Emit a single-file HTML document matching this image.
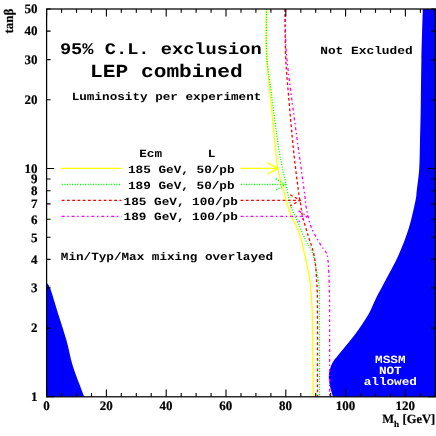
<!DOCTYPE html>
<html><head><meta charset="utf-8"><title>LEP combined exclusion</title>
<style>
html,body{margin:0;padding:0;background:#fff;}
body{width:436px;height:436px;overflow:hidden;}
svg{display:block;will-change:transform;}
text{text-rendering:geometricPrecision;}
.ser{font-family:"Liberation Serif",serif;font-weight:bold;font-size:13px;fill:#000;stroke:#000;stroke-width:0.2px;}
.mono{font-family:"Liberation Mono",monospace;font-weight:bold;}
</style></head><body>
<svg width="436" height="436" viewBox="0 0 436 436">
<rect width="436" height="436" fill="#fff"/>
<path d="M46.60,282.80 C47.25,283.88 48.52,283.93 50.50,289.30 C52.48,294.67 55.83,306.45 58.50,315.00 C61.17,323.55 64.10,332.05 66.50,340.60 C68.90,349.15 69.95,356.93 72.90,366.30 C75.85,375.67 82.32,391.72 84.20,396.80 L46.6,396.8 Z" fill="#0000ff"/>
<path d="M422.80,9.00 C422.57,17.50 421.75,43.17 421.40,60.00 C421.05,76.83 420.93,96.50 420.70,110.00 C420.47,123.50 420.25,131.17 420.00,141.00 C419.75,150.83 419.75,160.67 419.20,169.00 C418.65,177.33 417.30,185.83 416.70,191.00 C416.10,196.17 416.88,193.92 415.60,200.00 C414.32,206.08 411.83,218.33 409.00,227.50 C406.17,236.67 402.72,245.82 398.60,255.00 C394.48,264.18 388.20,275.10 384.30,282.60 C380.40,290.10 377.78,294.80 375.20,300.00 C372.62,305.20 371.33,309.22 368.80,313.80 C366.27,318.38 363.20,322.92 360.00,327.50 C356.80,332.08 353.22,336.72 349.60,341.30 C345.98,345.88 341.20,351.33 338.30,355.00 C335.40,358.67 333.77,360.08 332.20,363.30 C330.63,366.52 329.30,370.63 328.90,374.30 C328.50,377.97 329.12,381.55 329.80,385.30 C330.48,389.05 332.47,394.88 333.00,396.80 L435.3,396.8 L435.3,9.0 Z" fill="#0000ff"/>
<path d="M266.40,9.00 C266.42,16.67 265.85,40.67 266.50,55.00 C267.15,69.33 268.78,79.17 270.30,95.00 C271.82,110.83 274.37,137.83 275.60,150.00 C276.83,162.17 276.40,161.33 277.70,168.00 C279.00,174.67 281.77,183.83 283.40,190.00 C285.03,196.17 286.15,200.58 287.50,205.00 C288.85,209.42 289.88,212.68 291.50,216.50 C293.12,220.32 295.58,224.08 297.20,227.90 C298.82,231.72 300.13,235.72 301.20,239.40 C302.27,243.08 302.55,245.32 303.60,250.00 C304.65,254.68 306.35,261.67 307.50,267.50 C308.65,273.33 309.82,279.42 310.50,285.00 C311.18,290.58 311.28,295.17 311.60,301.00 C311.92,306.83 312.13,304.00 312.40,320.00 C312.67,336.00 313.07,384.17 313.20,397.00" fill="none" stroke="#ffff00" stroke-width="1.3"/>
<path d="M266.50,9.00 C266.53,16.67 265.92,41.17 266.70,55.00 C267.48,68.83 269.15,76.17 271.20,92.00 C273.25,107.83 276.53,134.67 279.00,150.00 C281.47,165.33 284.08,174.83 286.00,184.00 C287.92,193.17 288.50,198.55 290.50,205.00 C292.50,211.45 295.45,216.80 298.00,222.70 C300.55,228.60 303.42,235.43 305.80,240.40 C308.18,245.37 310.67,248.28 312.30,252.50 C313.93,256.72 314.57,260.83 315.60,265.70 C316.63,270.57 317.87,277.65 318.50,281.70 C319.13,285.75 319.23,285.28 319.40,290.00 C319.57,294.72 319.48,292.17 319.50,310.00 C319.52,327.83 319.50,382.50 319.50,397.00" fill="none" stroke="#00ff00" stroke-width="1.25" stroke-dasharray="1.1 1.5"/>
<path d="M285.20,9.00 C285.23,12.50 285.17,22.17 285.40,30.00 C285.63,37.83 285.63,45.17 286.60,56.00 C287.57,66.83 289.20,79.33 291.20,95.00 C293.20,110.67 296.45,134.17 298.60,150.00 C300.75,165.83 302.80,180.28 304.10,190.00 C305.40,199.72 305.25,202.18 306.40,208.30 C307.55,214.42 308.72,220.77 311.00,226.70 C313.28,232.63 317.63,239.68 320.10,243.90 C322.57,248.12 324.60,250.07 325.80,252.00 C327.00,253.93 326.83,252.83 327.30,255.50 C327.77,258.17 328.27,262.25 328.60,268.00 C328.93,273.75 329.13,283.00 329.30,290.00 C329.47,297.00 329.55,292.17 329.60,310.00 C329.65,327.83 329.60,382.50 329.60,397.00" fill="none" stroke="#ff00ff" stroke-width="1.3" stroke-dasharray="3 2.6 1.5 2.8"/>
<path d="M285.00,9.00 C285.10,16.83 285.02,41.67 285.60,56.00 C286.18,70.33 287.18,79.33 288.50,95.00 C289.82,110.67 291.87,134.17 293.50,150.00 C295.13,165.83 297.12,181.03 298.30,190.00 C299.48,198.97 299.93,199.60 300.60,203.80 C301.27,208.00 301.03,209.85 302.30,215.20 C303.57,220.55 306.37,229.78 308.20,235.90 C310.03,242.02 312.07,246.93 313.30,251.90 C314.53,256.87 315.03,260.73 315.60,265.70 C316.17,270.67 316.43,277.65 316.70,281.70 C316.97,285.75 317.07,285.28 317.20,290.00 C317.33,294.72 317.45,292.17 317.50,310.00 C317.55,327.83 317.50,382.50 317.50,397.00" fill="none" stroke="#ff0000" stroke-width="1.3" stroke-dasharray="2.8 2.45"/>
<path d="M61.5,168.4 L121.5,168.4 M240.7,168.4 L277.7,168.4" fill="none" stroke="#ffff00" stroke-width="1.3"/><path d="M267.2,162.6 L277.7,168.4 L267.2,174.20000000000002" fill="none" stroke="#ffff00" stroke-width="1.3"/>
<path d="M61.7,184.5 L121.5,184.5 M240.9,184.5 L285.5,184.5" fill="none" stroke="#00ff00" stroke-width="1.3" stroke-dasharray="1.1 1.5"/><path d="M275.8,178.8 L285.5,184.5 L275.8,190.2" fill="none" stroke="#00ff00" stroke-width="1.3" stroke-dasharray="1.1 1.5"/>
<path d="M61.7,200.3 L121.5,200.3 M240.6,200.3 L300.2,200.3" fill="none" stroke="#ff0000" stroke-width="1.3" stroke-dasharray="2.8 2.45"/><path d="M290.2,194.70000000000002 L300.2,200.3 L290.2,205.9" fill="none" stroke="#ff0000" stroke-width="1.3" stroke-dasharray="2.8 2.45"/>
<path d="M61.7,216.3 L121.5,216.3 M240.6,216.3 L307.8,216.3" fill="none" stroke="#ff00ff" stroke-width="1.3" stroke-dasharray="3 2.6 1.5 2.8"/><path d="M298.6,210.9 L307.8,216.3 L298.6,221.70000000000002" fill="none" stroke="#ff00ff" stroke-width="1.3" stroke-dasharray="3 2.6 1.5 2.8"/>
<rect x="46.6" y="9.0" width="388.7" height="387.8" fill="none" stroke="#000" stroke-width="1.25"/>
<path d="M46.6,396.8 v-7.4 M46.6,9.0 v7.4 M61.6,396.8 v-3.7 M61.6,9.0 v3.7 M76.5,396.8 v-3.7 M76.5,9.0 v3.7 M91.5,396.8 v-3.7 M91.5,9.0 v3.7 M106.4,396.8 v-7.4 M106.4,9.0 v7.4 M121.3,396.8 v-3.7 M121.3,9.0 v3.7 M136.3,396.8 v-3.7 M136.3,9.0 v3.7 M151.2,396.8 v-3.7 M151.2,9.0 v3.7 M166.2,396.8 v-7.4 M166.2,9.0 v7.4 M181.2,396.8 v-3.7 M181.2,9.0 v3.7 M196.1,396.8 v-3.7 M196.1,9.0 v3.7 M211.1,396.8 v-3.7 M211.1,9.0 v3.7 M226.0,396.8 v-7.4 M226.0,9.0 v7.4 M241.0,396.8 v-3.7 M241.0,9.0 v3.7 M255.9,396.8 v-3.7 M255.9,9.0 v3.7 M270.9,396.8 v-3.7 M270.9,9.0 v3.7 M285.8,396.8 v-7.4 M285.8,9.0 v7.4 M300.8,396.8 v-3.7 M300.8,9.0 v3.7 M315.7,396.8 v-3.7 M315.7,9.0 v3.7 M330.7,396.8 v-3.7 M330.7,9.0 v3.7 M345.6,396.8 v-7.4 M345.6,9.0 v7.4 M360.6,396.8 v-3.7 M360.6,9.0 v3.7 M375.5,396.8 v-3.7 M375.5,9.0 v3.7 M390.5,396.8 v-3.7 M390.5,9.0 v3.7 M405.4,396.8 v-7.4 M405.4,9.0 v7.4 M420.4,396.8 v-3.7 M420.4,9.0 v3.7 M435.3,396.8 v-3.7 M435.3,9.0 v3.7 M46.6,396.8 h7.6 M435.3,396.8 h-7.6 M46.6,328.1 h4 M435.3,328.1 h-4 M46.6,287.9 h4 M435.3,287.9 h-4 M46.6,259.4 h4 M435.3,259.4 h-4 M46.6,237.3 h4 M435.3,237.3 h-4 M46.6,219.2 h4 M435.3,219.2 h-4 M46.6,203.9 h4 M435.3,203.9 h-4 M46.6,190.7 h4 M435.3,190.7 h-4 M46.6,179.0 h4 M435.3,179.0 h-4 M46.6,168.5 h7.6 M435.3,168.5 h-7.6 M46.6,99.8 h4 M435.3,99.8 h-4 M46.6,59.6 h4 M435.3,59.6 h-4 M46.6,31.1 h4 M435.3,31.1 h-4 M46.6,9.0 h4 M435.3,9.0 h-4" stroke="#000" stroke-width="1.1" fill="none"/>
<text transform="translate(46.4,409.8) scale(1,1.0)" text-anchor="middle" class="ser" style="font-size:13px">0</text>
<text transform="translate(106.2,409.8) scale(1,1.0)" text-anchor="middle" class="ser" style="font-size:13px">20</text>
<text transform="translate(166.0,409.8) scale(1,1.0)" text-anchor="middle" class="ser" style="font-size:13px">40</text>
<text transform="translate(225.8,409.8) scale(1,1.0)" text-anchor="middle" class="ser" style="font-size:13px">60</text>
<text transform="translate(285.6,409.8) scale(1,1.0)" text-anchor="middle" class="ser" style="font-size:13px">80</text>
<text transform="translate(345.4,409.8) scale(1,1.0)" text-anchor="middle" class="ser" style="font-size:13px">100</text>
<text transform="translate(405.2,409.8) scale(1,1.0)" text-anchor="middle" class="ser" style="font-size:13px">120</text>
<text transform="translate(37.6,401.1) scale(1,1.0)" text-anchor="end" class="ser" style="font-size:13px">1</text>
<text transform="translate(37.6,332.4) scale(1,1.0)" text-anchor="end" class="ser" style="font-size:13px">2</text>
<text transform="translate(37.6,292.2) scale(1,1.0)" text-anchor="end" class="ser" style="font-size:13px">3</text>
<text transform="translate(37.6,263.7) scale(1,1.0)" text-anchor="end" class="ser" style="font-size:13px">4</text>
<text transform="translate(37.6,241.6) scale(1,1.0)" text-anchor="end" class="ser" style="font-size:13px">5</text>
<text transform="translate(37.6,223.5) scale(1,1.0)" text-anchor="end" class="ser" style="font-size:13px">6</text>
<text transform="translate(37.6,208.2) scale(1,1.0)" text-anchor="end" class="ser" style="font-size:13px">7</text>
<text transform="translate(37.6,195.0) scale(1,1.0)" text-anchor="end" class="ser" style="font-size:13px">8</text>
<text transform="translate(37.6,183.3) scale(1,1.0)" text-anchor="end" class="ser" style="font-size:13px">9</text>
<text transform="translate(37.6,172.8) scale(1,1.0)" text-anchor="end" class="ser" style="font-size:13px">10</text>
<text transform="translate(37.6,104.1) scale(1,1.0)" text-anchor="end" class="ser" style="font-size:13px">20</text>
<text transform="translate(37.6,63.9) scale(1,1.0)" text-anchor="end" class="ser" style="font-size:13px">30</text>
<text transform="translate(37.6,35.4) scale(1,1.0)" text-anchor="end" class="ser" style="font-size:13px">40</text>
<text transform="translate(37.6,13.3) scale(1,1.0)" text-anchor="end" class="ser" style="font-size:13px">50</text>
<text transform="translate(13.3,8.5) rotate(-90)" text-anchor="end" class="ser" style="font-size:13.1px">tan&#946;</text>
<text x="382.2" y="422.8" class="ser" style="font-size:12.5px">M<tspan dy="4.2" style="font-size:9px">h</tspan></text><text x="402.5" y="422.8" class="ser" style="font-size:12.5px">[GeV]</text>
<text transform="translate(59.9,54.2) scale(1,0.87)" class="mono" text-anchor="start" style="font-size:18.68px" fill="#000">95% C.L. exclusion</text>
<text transform="translate(90.1,76.6) scale(1,0.87)" class="mono" text-anchor="start" style="font-size:21.2px" fill="#000">LEP combined</text>
<text transform="translate(71.7,100.1) scale(1,0.87)" class="mono" text-anchor="start" style="font-size:12.65px" fill="#000">Luminosity per experiment</text>
<text transform="translate(139.2,156.9) scale(1,0.87)" class="mono" text-anchor="start" style="font-size:12.7px" fill="#000">Ecm</text>
<text transform="translate(207.8,156.9) scale(1,0.87)" class="mono" text-anchor="start" style="font-size:12.7px" fill="#000">L</text>
<text transform="translate(128,172.7) scale(1,0.87)" class="mono" text-anchor="start" style="font-size:12.7px" fill="#000">185 GeV, 50/pb</text>
<text transform="translate(128,188.8) scale(1,0.87)" class="mono" text-anchor="start" style="font-size:12.7px" fill="#000">189 GeV, 50/pb</text>
<text transform="translate(123.6,204.6) scale(1,0.87)" class="mono" text-anchor="start" style="font-size:12.7px" fill="#000">185 GeV, 100/pb</text>
<text transform="translate(123.6,220.4) scale(1,0.87)" class="mono" text-anchor="start" style="font-size:12.7px" fill="#000">189 GeV, 100/pb</text>
<text transform="translate(60.8,260) scale(1,0.87)" class="mono" text-anchor="start" style="font-size:12.65px" fill="#000">Min/Typ/Max mixing overlayed</text>
<text transform="translate(320.2,53.9) scale(1,0.87)" class="mono" text-anchor="start" style="font-size:12.85px" fill="#000">Not Excluded</text>
<text transform="translate(390.3,362.5) scale(1,0.87)" class="mono" text-anchor="middle" style="font-size:12.7px" fill="#fff">MSSM</text>
<text transform="translate(390.3,373.9) scale(1,0.87)" class="mono" text-anchor="middle" style="font-size:12.7px" fill="#fff">NOT</text>
<text transform="translate(390.3,385.3) scale(1,0.87)" class="mono" text-anchor="middle" style="font-size:12.7px" fill="#fff">allowed</text>
</svg>
</body></html>
